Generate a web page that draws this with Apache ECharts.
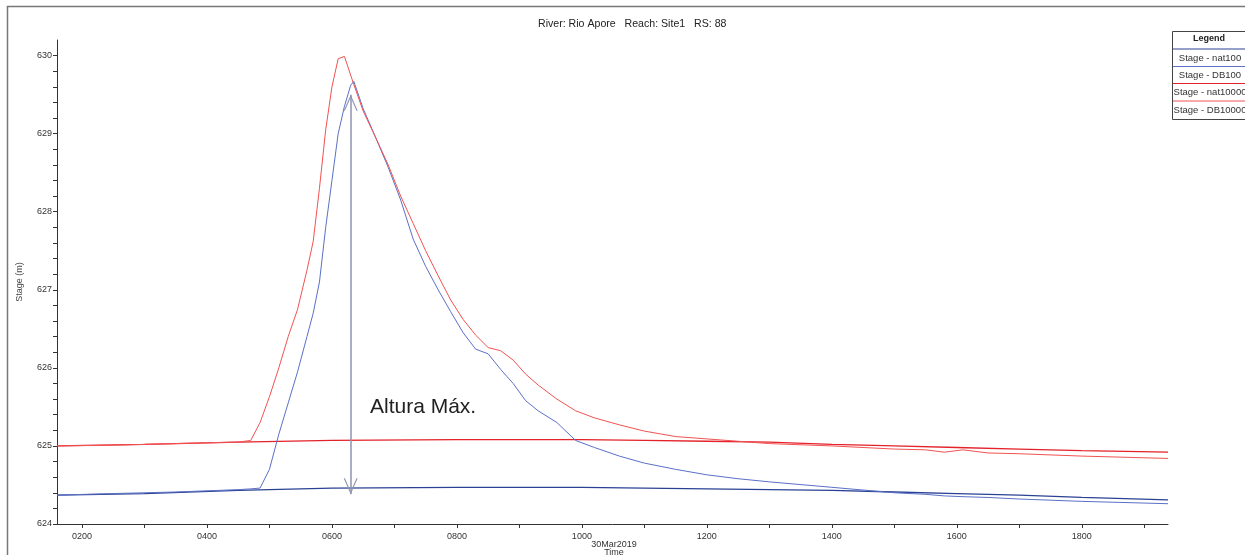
<!DOCTYPE html>
<html>
<head>
<meta charset="utf-8">
<title>Stage hydrograph - Rio Apore</title>
<script src="https://cdn.jsdelivr.net/npm/echarts@6/dist/echarts.min.js"></script>
<style>
  html, body { margin: 0; padding: 0; background: #fff; }
  #chart { width: 1245px; height: 555px; }
</style>
</head>
<body>
<div id="chart"></div>
<script>
// Stage hydrographs at RS 88, 30 Mar 2019 (time in decimal hours)
const titleText = 'River: Rio Apore   Reach: Site1   RS: 88';
const dateText = '30Mar2019';

// natural-flow runs (no dam break)
const natHours = [1.6, 3, 4.5, 6, 8, 10, 11, 12, 13, 14, 15, 16, 17, 18, 19.38];
const stageNat100 = [624.37, 624.39, 624.43, 624.46, 624.47, 624.47, 624.46, 624.45, 624.44, 624.43, 624.41, 624.39, 624.37, 624.34, 624.31];
const stageNat10000 = [625.00, 625.02, 625.05, 625.07, 625.08, 625.08, 625.07, 625.06, 625.05, 625.02, 625.00, 624.98, 624.96, 624.94, 624.92];

// dam-break runs
const dbHours = [1.6, 2.5, 3.5, 4.5, 4.7, 4.85, 5.0, 5.15, 5.3, 5.45, 5.6, 5.7, 5.8, 5.9, 6.0, 6.1, 6.2, 6.3, 6.35, 6.5,
  6.7, 6.9, 7.1, 7.3, 7.5, 7.7, 7.9, 8.1, 8.3, 8.5, 8.7, 8.9, 9.1, 9.3, 9.6, 9.9, 10.2, 10.6, 11.0, 11.5,
  12.0, 12.5, 13.0, 14.0, 15.0, 15.5, 15.8, 16.1, 16.5, 17.0, 18.0, 19.38];
const stageDB100 = [624.37, 624.39, 624.41, 624.44, 624.45, 624.46, 624.70, 625.15, 625.55, 625.95, 626.40, 626.70, 627.10, 627.80, 628.40, 629.00, 629.35, 629.62, 629.67, 629.32,
  628.95, 628.57, 628.15, 627.65, 627.30, 627.00, 626.72, 626.45, 626.24, 626.18, 625.98, 625.80, 625.58, 625.45, 625.30, 625.07, 624.98, 624.87, 624.78, 624.70,
  624.63, 624.58, 624.54, 624.47, 624.40, 624.38, 624.36, 624.35, 624.34, 624.32, 624.29, 624.26];
const stageDB10000 = [625.00, 625.01, 625.03, 625.05, 625.07, 625.30, 625.63, 626.00, 626.40, 626.75, 627.25, 627.62, 628.30, 629.05, 629.60, 629.96, 629.99, 629.75, 629.63, 629.29,
  628.95, 628.60, 628.20, 627.85, 627.50, 627.18, 626.87, 626.62, 626.42, 626.26, 626.22, 626.10, 625.92, 625.78, 625.60, 625.45, 625.36, 625.27, 625.19, 625.12,
  625.09, 625.06, 625.03, 625.00, 624.96, 624.95, 624.92, 624.95, 624.91, 624.90, 624.87, 624.84];

// maximum-height annotation (hour, top stage, base stage)
const arrowHour = 6.3;
const arrowTop = 629.5;
const arrowBase = 624.38;
const arrowText = 'Altura Máx.';

// axis ticks and labels
const hourTicks = [2, 3, 4, 5, 6, 7, 8, 9, 10, 11, 12, 13, 14, 15, 16, 17, 18, 19];
const hourLabels = [2, 4, 6, 8, 10, 12, 14, 16, 18];
const stageLabels = [624, 625, 626, 627, 628, 629, 630];
const stageMinorStep = 0.2;

const seriesNames = ['Stage - nat100', 'Stage - DB100', 'Stage - nat10000', 'Stage - DB10000'];
const seriesColors = ['#2b4294', '#5b70c6', '#e3222a', '#f25252'];

const FONT = '"Liberation Sans", Arial, Helvetica, sans-serif';
const pairs = (xs, ys) => xs.map((x, i) => [x, ys[i]]);
const hhmm = h => String(Math.round(h)).padStart(2, '0') + '00';

const stageTicks = [];
for (let i = 0; i <= Math.round((stageLabels[stageLabels.length - 1] - stageLabels[0]) / stageMinorStep); i++) {
  stageTicks.push(Math.round((stageLabels[0] + i * stageMinorStep) * 100) / 100);
}

// open chevron for the arrow heads; the empty sub-path above it keeps the
// tip at the centre of the symbol box, so the tip sits on the line end
const chevron = 'path://M5,-10 L5.01,-10 L5,-10 Z M5,0 L10,10 L9.1,10 L5,1.8 L0.9,10 L0,10 Z';

const chart = echarts.init(document.getElementById('chart'), null, { renderer: 'canvas' });

function lineSeries(idx, hours, stages, width, z) {
  return {
    name: seriesNames[idx],
    type: 'line',
    data: pairs(hours, stages),
    symbol: 'none',
    smooth: false,
    z: z,
    lineStyle: { color: seriesColors[idx], width: width },
    itemStyle: { color: seriesColors[idx] },
    emphasis: { disabled: true }
  };
}

const dbBlue = lineSeries(1, dbHours, stageDB100, 1, 3);
dbBlue.markLine = {
  silent: true,
  symbol: [chevron, chevron],
  symbolSize: [14, 32],
  label: { show: false },
  lineStyle: { color: '#8e93b0', width: 1.5, type: 'solid' },
  emphasis: { disabled: true },
  data: [[{ coord: [arrowHour, arrowTop] }, { coord: [arrowHour, arrowBase] }]]
};

// legend panel drawn at the upper right corner
const legendX = 1172, legendY = 31, legendW = 90, legendH = 88;
const legendLineY = [49, 66.5, 83.5, 101];
const legendTextY = [58.5, 75.5, 92.5, 110.5];
const legendGraphics = [
  { type: 'rect', shape: { x: legendX + 0.5, y: legendY + 0.5, width: legendW, height: legendH },
    style: { fill: '#fff', stroke: '#444', lineWidth: 1 }, z: 10 },
  { type: 'text', x: 1209, y: 39, z: 11,
    style: { text: 'Legend', fontSize: 9, fontWeight: 'bold', fontFamily: FONT, fill: '#222', align: 'center', verticalAlign: 'middle' } }
];
seriesNames.forEach((name, i) => {
  legendGraphics.push({ type: 'line', z: 11,
    shape: { x1: legendX + 1, y1: legendLineY[i], x2: legendX + legendW, y2: legendLineY[i] },
    style: { stroke: seriesColors[i], lineWidth: 1 } });
  legendGraphics.push({ type: 'text', x: 1210, y: legendTextY[i], z: 11,
    style: { text: name, fontSize: 9.5, fontFamily: FONT, fill: '#333', align: 'center', verticalAlign: 'middle' } });
});

const option = {
  animation: false,
  backgroundColor: '#fff',
  title: {
    text: titleText,
    left: 533, top: 14,
    textStyle: { fontSize: 10.6, fontWeight: 'normal', color: '#222', fontFamily: FONT }
  },
  grid: { left: 57, right: 77, top: 40, bottom: 31, outerBoundsMode: 'none' },
  xAxis: {
    type: 'value',
    min: 1.6, max: 19.38,
    axisLine: { show: true, onZero: false, lineStyle: { color: '#333', width: 1 } },
    axisTick: { show: true, customValues: hourTicks, length: 4, lineStyle: { color: '#333' } },
    axisLabel: { customValues: hourLabels, formatter: hhmm, fontSize: 9, color: '#333', fontFamily: FONT, margin: 8 },
    splitLine: { show: false }
  },
  yAxis: {
    type: 'value',
    min: 624, max: 630.2,
    name: 'Stage (m)',
    nameLocation: 'middle',
    nameGap: 33,
    nameRotate: 90,
    nameTextStyle: { fontSize: 9, color: '#444', fontFamily: FONT },
    axisLine: { show: true, onZero: false, lineStyle: { color: '#333', width: 1 } },
    axisTick: { show: true, customValues: stageTicks, length: 4, lineStyle: { color: '#333' } },
    axisLabel: { customValues: stageLabels, fontSize: 9, color: '#333', fontFamily: FONT, margin: 5 },
    splitLine: { show: false }
  },
  series: [
    lineSeries(0, natHours, stageNat100, 1.3, 2),
    dbBlue,
    lineSeries(2, natHours, stageNat10000, 1.3, 2),
    lineSeries(3, dbHours, stageDB10000, 1, 3)
  ],
  graphic: [
    { type: 'rect', shape: { x: 7.5, y: 6.5, width: 1400, height: 700 },
      style: { fill: 'none', stroke: '#777', lineWidth: 1.5 }, silent: true, z: 0 },
    { type: 'text', x: 370, y: 407, z: 5,
      style: { text: arrowText, fontSize: 21, fontFamily: FONT, fill: '#222', verticalAlign: 'middle' } },
    { type: 'text', x: 614, y: 545, z: 5,
      style: { text: dateText, fontSize: 9, fontFamily: FONT, fill: '#333', align: 'center', verticalAlign: 'middle' } },
    { type: 'text', x: 614, y: 553, z: 5,
      style: { text: 'Time', fontSize: 9, fontFamily: FONT, fill: '#333', align: 'center', verticalAlign: 'middle' } }
  ].concat(legendGraphics)
};

chart.setOption(option);
</script>
</body>
</html>
